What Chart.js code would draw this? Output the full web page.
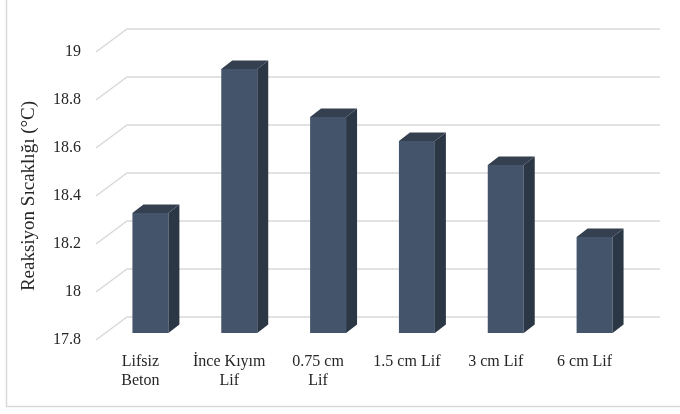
<!DOCTYPE html>
<html>
<head>
<meta charset="utf-8">
<script src="https://cdn.jsdelivr.net/npm/chart.js@4/dist/chart.umd.min.js"></script>
<style>
  html, body { margin: 0; padding: 0; background: #fff; }
  #wrap { width: 680px; height: 414px; position: relative; }
</style>
</head>
<body>
<div id="wrap"><canvas id="chart" width="680" height="414"></canvas></div>
<script>
// === DATA ===
const categories = [["Lifsiz", "Beton"], ["İnce Kıyım", "Lif"], ["0.75 cm", "Lif"], "1.5 cm Lif", "3 cm Lif", "6 cm Lif"];
const temps = [18.3, 18.9, 18.7, 18.6, 18.5, 18.2];
const yTicks = [17.8, 18, 18.2, 18.4, 18.6, 18.8, 19];
const yTitle = "Reaksiyon Sıcaklığı (°C)";
// =============

// 3D look (Excel style): back wall offset, bar position inside the depth
const WALL = { dx: 31, dy: -23 };
const BAR_SHIFT = { dx: 10, dy: -7 };
const BAR_DEPTH = { dx: 11, dy: -8.5 };
const GRID_COLOR = "#d9d9d9";

const threeD = {
  id: "threeD",
  beforeDraw(chart) {
    const { ctx } = chart;
    ctx.save();
    ctx.fillStyle = "#fff";
    ctx.fillRect(0, 0, chart.width, chart.height);
    // outer frame (only left and bottom edges are in view)
    ctx.strokeStyle = GRID_COLOR;
    ctx.lineWidth = 1.5;
    ctx.beginPath();
    ctx.moveTo(6.5, 0);
    ctx.lineTo(6.5, 406.5);
    ctx.lineTo(chart.width, 406.5);
    ctx.stroke();

    // gridlines: left wall diagonals + back wall lines
    const y = chart.scales.y, area = chart.chartArea;
    yTicks.forEach(v => {
      const py = y.getPixelForValue(v);
      ctx.beginPath();
      ctx.moveTo(area.left, py);
      ctx.lineTo(area.left + WALL.dx, py + WALL.dy);
      ctx.lineTo(area.right + WALL.dx, py + WALL.dy);
      ctx.stroke();
    });
    ctx.restore();
  },
  beforeDatasetsDraw(chart) {
    chart.ctx.save();
    chart.ctx.translate(BAR_SHIFT.dx, BAR_SHIFT.dy);
  },
  afterDatasetsDraw(chart) {
    const { ctx, chartArea } = chart;
    const meta = chart.getDatasetMeta(0);
    meta.data.forEach(bar => {
      const l = bar.x - bar.width / 2, r = bar.x + bar.width / 2;
      const t = bar.y, b = Math.min(bar.base, chartArea.bottom);
      // side face
      ctx.fillStyle = "#2c3746";
      ctx.beginPath();
      ctx.moveTo(r, t);
      ctx.lineTo(r + BAR_DEPTH.dx, t + BAR_DEPTH.dy);
      ctx.lineTo(r + BAR_DEPTH.dx, b + BAR_DEPTH.dy);
      ctx.lineTo(r, b);
      ctx.closePath();
      ctx.fill();
      // top face
      ctx.fillStyle = "#343f50";
      ctx.beginPath();
      ctx.moveTo(l, t);
      ctx.lineTo(l + BAR_DEPTH.dx, t + BAR_DEPTH.dy);
      ctx.lineTo(r + BAR_DEPTH.dx, t + BAR_DEPTH.dy);
      ctx.lineTo(r, t);
      ctx.closePath();
      ctx.fill();
    });
    ctx.restore();
  }
};

const textFont = { family: "'Liberation Serif', 'Times New Roman', serif", size: 16 };

new Chart(document.getElementById("chart"), {
  type: "bar",
  data: {
    labels: categories,
    datasets: [{
      data: temps,
      backgroundColor: "#44546a",
      borderWidth: 0,
      barPercentage: 0.405,
      categoryPercentage: 1
    }]
  },
  options: {
    responsive: false,
    animation: false,
    events: [],
    layout: { padding: { top: 52, right: 51, left: 0, bottom: 0 } },
    plugins: { legend: { display: false }, tooltip: { enabled: false } },
    scales: {
      x: {
        offset: true,
        grid: { display: false, drawTicks: false },
        border: { display: false },
        ticks: { color: "#262626", font: textFont, padding: 12, maxRotation: 0, autoSkip: false },
        afterFit(scale) { scale.height = 74; }
      },
      y: {
        min: 17.8,
        max: 19,
        grid: { display: false, drawTicks: false },
        border: { display: false },
        afterBuildTicks(scale) { scale.ticks = yTicks.map(v => ({ value: v })); },
        ticks: {
          color: "#262626",
          font: textFont,
          padding: 15,
          callback: v => String(+Number(v).toFixed(1))
        },
        title: {
          display: true,
          text: yTitle,
          color: "#262626",
          font: { family: textFont.family, size: 19 },
          padding: { top: 18, bottom: 0 }
        },
        afterFit(scale) { scale.width = 96; }
      }
    }
  },
  plugins: [threeD]
});
</script>
</body>
</html>
